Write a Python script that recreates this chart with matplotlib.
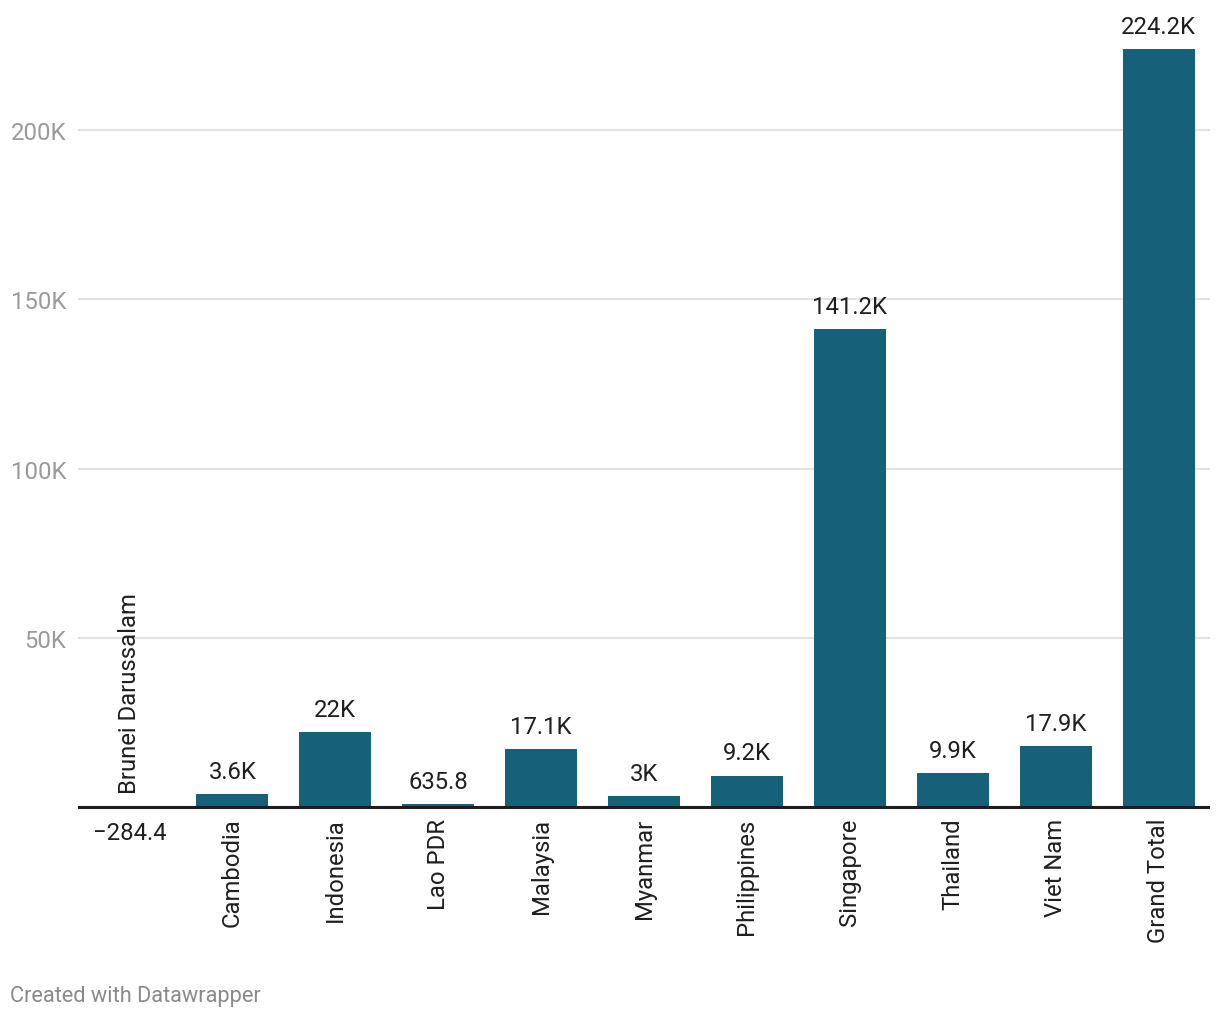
import matplotlib
matplotlib.use("Agg")
import matplotlib.pyplot as plt

plt.rcParams['font.family'] = ['Roboto', 'DejaVu Sans']

categories = ["Brunei Darussalam", "Cambodia", "Indonesia", "Lao PDR", "Malaysia",
              "Myanmar", "Philippines", "Singapore", "Thailand", "Viet Nam", "Grand Total"]
values = [-284.4, 3600, 22000, 635.8, 17100, 3000, 9200, 141200, 9900, 17900, 224200]
value_labels = ["\u2212284.4", "3.6K", "22K", "635.8", "17.1K", "3K", "9.2K",
                "141.2K", "9.9K", "17.9K", "224.2K"]
yticks = [50000, 100000, 150000, 200000]
ytick_labels = ["50K", "100K", "150K", "200K"]

W, H = 1220, 1020
fig = plt.figure(figsize=(W / 100, H / 100), dpi=100)
ymin, ymax = -1000, 234000
ax = fig.add_axes([78 / W, (H - 811) / H, (1210 - 78) / W, (811 - 16.5) / H])
ax.set_xlim(-0.5, len(categories) - 0.5)
ax.set_ylim(ymin, ymax)

bar_color = "#17607a"
x = list(range(len(categories)))
ax.bar(x, values, width=0.70, color=bar_color, zorder=3)

for yt in yticks:
    ax.axhline(yt, color="#e3e3e3", lw=1.6, zorder=1)
ax.axhline(0, color="#1d1d1d", lw=2.2, zorder=4)

for s in ax.spines.values():
    s.set_visible(False)
ax.set_xticks([])
ax.set_yticks(yticks)
ax.set_yticklabels(ytick_labels)
ax.tick_params(axis='y', length=0, pad=8.5, labelsize=17.2, labelcolor="#9a9a9a")

fs = 17.2
for i, (v, lab, cat) in enumerate(zip(values, value_labels, categories)):
    if v >= 0:
        ax.annotate(lab, (i, v), xytext=(0, 8), textcoords="offset points",
                    ha="center", va="bottom", fontsize=fs, color="#1f1f1f", zorder=5)
        ax.annotate(cat, (i, 0), xytext=(0, -8), textcoords="offset points",
                    ha="center", va="top", rotation=90, fontsize=fs, color="#1f1f1f")
    else:
        ax.annotate(lab, (i, 0), xytext=(0, -10), textcoords="offset points",
                    ha="center", va="top", fontsize=fs, color="#1f1f1f")
        ax.annotate(cat, (i, 0), xytext=(0, 10), textcoords="offset points",
                    ha="center", va="bottom", rotation=90, fontsize=fs, color="#1f1f1f")

fig.text(10 / W, 1 - 997 / H, "Created with Datawrapper", ha="left", va="center",
         fontsize=15.7, color="#8a8a8a")

fig.savefig("out.png", dpi=100, facecolor="white")
